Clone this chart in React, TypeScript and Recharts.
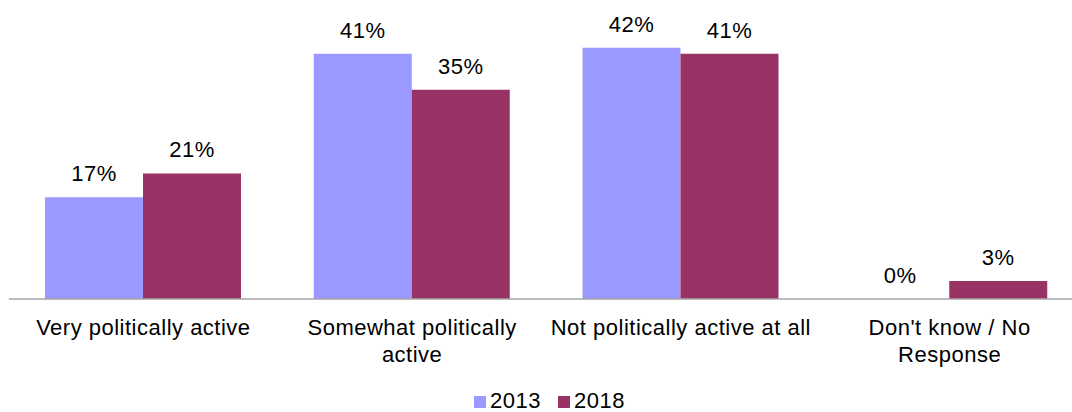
import { BarChart, Bar, XAxis, YAxis, Legend, LabelList } from "recharts";

const categories = [
  "Very politically active",
  "Somewhat politically\nactive",
  "Not politically active at all",
  "Don't know / No\nResponse",
];
const values2013 = [17, 41, 42, 0];
const values2018 = [21, 35, 41, 3];

const data = categories.map((name, i) => ({
  name,
  y2013: values2013[i],
  y2018: values2018[i],
}));

const CategoryTick = (props: any) => {
  const { x, y, payload } = props;
  const lines = String(payload.value).split("\n");
  return (
    <text x={x} y={y} textAnchor="middle" fontSize={22} fill="#000" letterSpacing={0.5}>
      {lines.map((line, i) => (
        <tspan key={i} x={x} dy={i === 0 ? 28 : 27}>
          {line}
        </tspan>
      ))}
    </text>
  );
};

export default function App() {
  return (
    <div
      style={{
        position: "absolute",
        left: 0,
        top: 0,
        width: 1072,
        height: 412,
        overflow: "hidden",
        background: "#fff",
        fontFamily: "'Liberation Sans', Arial, sans-serif",
      }}
    >
      <BarChart
        width={1084}
        height={412}
        data={data}
        margin={{ top: 0, right: 0, bottom: 0, left: 9 }}
        barGap={0}
        barSize={98}
      >
        <XAxis
          dataKey="name"
          interval={0}
          tickLine={false}
          axisLine={{ stroke: "#A6A6A6", strokeWidth: 1.5 }}
          height={89}
          tick={<CategoryTick />}
        />
        <YAxis hide domain={[0, 50]} />
        <Legend
          verticalAlign="bottom"
          align="center"
          iconType="square"
          iconSize={12}
          wrapperStyle={{
            fontSize: 22,
            color: "#000",
            lineHeight: "24px",
            bottom: -1,
            left: 17,
            letterSpacing: 0.5,
          }}
          formatter={(v: string, _e: any, i: number) => (
            <span style={{ color: "#000", marginRight: i === 0 ? 7 : 0 }}>{v}</span>
          )}
        />
        <Bar
          dataKey="y2013"
          name="2013"
          fill="#9999FF"
          minPointSize={0.01}
          isAnimationActive={false}
        >
          <LabelList
            dataKey="y2013"
            position="top"
            offset={16}
            fontSize={22}
            fill="#000"
            letterSpacing={0.5}
            formatter={(v: any) => `${v}%`}
          />
        </Bar>
        <Bar dataKey="y2018" name="2018" fill="#993366" isAnimationActive={false}>
          <LabelList
            dataKey="y2018"
            position="top"
            offset={16}
            fontSize={22}
            fill="#000"
            letterSpacing={0.5}
            formatter={(v: any) => `${v}%`}
          />
        </Bar>
      </BarChart>
    </div>
  );
}
